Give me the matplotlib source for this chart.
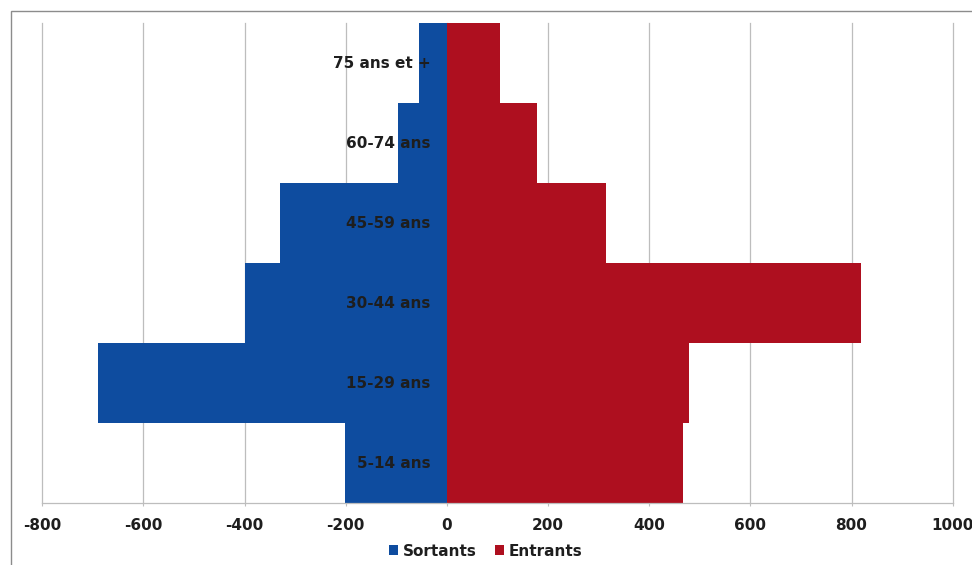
import matplotlib
matplotlib.use("Agg")
import matplotlib.pyplot as plt
from matplotlib.patches import Rectangle
import numpy as np

# Age groups, bottom to top
categories = ["5-14 ans", "15-29 ans", "30-44 ans", "45-59 ans", "60-74 ans", "75 ans et +"]
sortants = [-202, -690, -400, -331, -96, -55]
entrants = [466, 478, 819, 314, 179, 105]
x_ticks = [-800, -600, -400, -200, 0, 200, 400, 600, 800, 1000]

BLUE = "#0E4C9F"
RED = "#AE0F1F"
GRID = "#BDBDBD"
TEXT = "#1E1E1E"

plt.rcParams["font.family"] = ["DejaVu Sans"]

W, H = 972, 565
fig = plt.figure(figsize=(W / 100, H / 100), dpi=100)
fig.patch.set_facecolor("white")

left, right, top, bottom = 42.3, 952.7, 23.0, 503.3
ax = fig.add_axes([left / W, 1 - bottom / H, (right - left) / W, (bottom - top) / H])

y = np.arange(len(categories))
ax.barh(y, sortants, height=1.0, color=BLUE, edgecolor="none", label="Sortants", zorder=2)
ax.barh(y, entrants, height=1.0, color=RED, edgecolor="none", label="Entrants", zorder=2)

ax.set_xlim(x_ticks[0], x_ticks[-1])
ax.set_ylim(-0.5, len(categories) - 0.5)
ax.set_xticks(x_ticks)
ax.set_xticklabels([str(t) for t in x_ticks], fontsize=11, fontweight="bold", color=TEXT)
ax.set_yticks([])
ax.tick_params(axis="x", length=2.5, color=GRID, pad=8)

ax.grid(axis="x", color=GRID, linewidth=0.9, zorder=0)
ax.set_axisbelow(True)
for gl in ax.get_xgridlines():
    gl.set_clip_on(False)
for side in ("top", "right", "left"):
    ax.spines[side].set_visible(False)
ax.spines["bottom"].set_color(GRID)
ax.spines["bottom"].set_linewidth(0.9)

# Age-group labels sit just left of the zero line, over the bars
for yi, name in zip(y, categories):
    ax.text(-32, yi, name, ha="right", va="center", fontsize=11,
            fontweight="bold", color=TEXT, zorder=3)

leg = fig.legend(loc="center", bbox_to_anchor=(0.5, 1 - 551 / H), ncol=2,
                 frameon=False, prop={"size": 11, "weight": "bold"},
                 handlelength=0.6, handleheight=0.6, handletextpad=0.3,
                 columnspacing=1.2)
for t in leg.get_texts():
    t.set_color(TEXT)

# Outer chart frame (left and top edges visible)
fig.patches.append(Rectangle((11 / W, -0.1), 1.2, 1 - 11 / H + 0.1,
                             transform=fig.transFigure, fill=False,
                             edgecolor="#8C8C8C", linewidth=1.0))

fig.savefig("out.png", dpi=100, facecolor="white")
